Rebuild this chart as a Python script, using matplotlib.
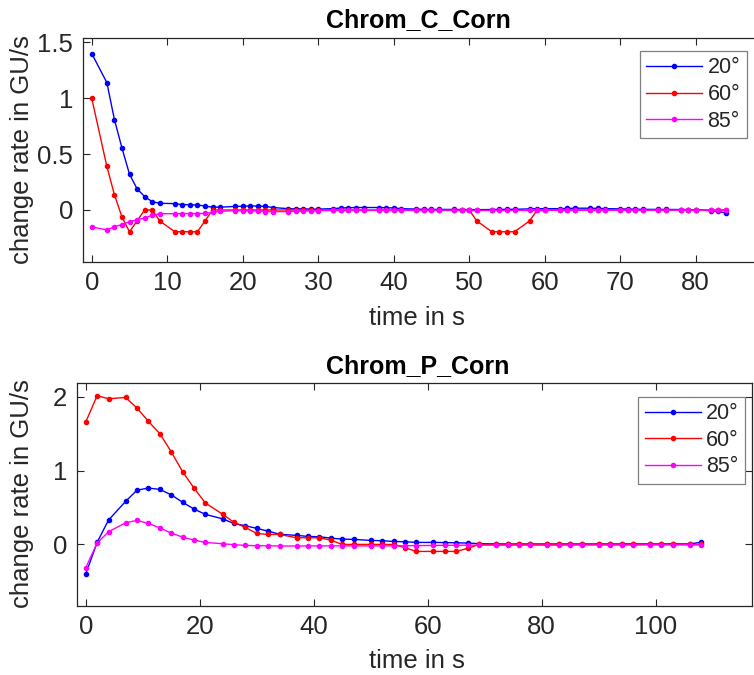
import numpy as np
import matplotlib
matplotlib.use("Agg")
import matplotlib.pyplot as plt

plt.rcParams['font.family'] = ['Liberation Sans', 'DejaVu Sans']

# Chrom_C_Corn
t_c = [0, 2, 3, 4, 5, 6, 7, 8, 9, 11, 12, 13, 14, 15, 16, 17, 19, 20, 21, 22,
       23, 24, 26, 27, 28, 29, 30, 32, 33, 34, 35, 36, 38, 39, 40, 41, 43, 44,
       45, 46, 48, 49, 50, 51, 53, 54, 55, 56, 58, 59, 60, 62, 63, 64, 66, 67,
       68, 70, 71, 72, 73, 75, 76, 78, 79, 80, 82, 83, 84]
c_20 = [1.40, 1.14, 0.81, 0.555, 0.32, 0.19, 0.12, 0.075, 0.06, 0.057, 0.048,
        0.047, 0.045, 0.035, 0.025, 0.025, 0.032, 0.034, 0.036, 0.035, 0.032,
        0.022, 0.012, 0.01, 0.01, 0.008, 0.008, 0.012, 0.018, 0.02, 0.022,
        0.022, 0.022, 0.02, 0.018, 0.012, 0.008, 0.006, 0.005, 0.005, 0.005,
        0.004, 0.004, 0.003, 0.004, 0.005, 0.006, 0.006, 0.01, 0.012, 0.012,
        0.012, 0.014, 0.016, 0.016, 0.014, 0.012, 0.01, 0.008, 0.007, 0.006,
        0.005, 0.005, 0.004, 0.003, 0.002, -0.006, -0.012, -0.028]
c_60 = [1.0, 0.39, 0.137, -0.063, -0.195, -0.098, 0.0, 0.0, -0.098, -0.195,
        -0.195, -0.195, -0.195, -0.098, 0.0, 0.0, 0.0, 0.0, 0.0, 0.0, 0.0, 0.0,
        0.0, 0.0, 0.0, 0.0, 0.0, 0.0, 0.0, 0.0, 0.0, 0.0, 0.0, 0.0, 0.0, 0.0,
        0.0, 0.0, 0.0, 0.0, 0.0, 0.0, 0.0, -0.098, -0.195, -0.195, -0.195,
        -0.195, -0.098, 0.0, 0.0, 0.0, 0.0, 0.0, 0.0, 0.0, 0.0, 0.0, 0.0, 0.0,
        0.0, 0.0, 0.0, 0.0, 0.0, 0.0, 0.0, 0.0, 0.0]
c_85 = [-0.152, -0.178, -0.15, -0.13, -0.105, -0.087, -0.072, -0.048, -0.033,
        -0.033, -0.032, -0.032, -0.032, -0.03, -0.022, -0.012, -0.006, -0.006,
        -0.008, -0.01, -0.015, -0.015, -0.015, -0.012, -0.01, -0.008, -0.006,
        -0.004, -0.004, -0.004, -0.004, -0.004, -0.004, -0.004, -0.004, -0.004,
        -0.004, -0.004, -0.004, -0.004, -0.004, -0.004, -0.004, -0.004, -0.004,
        -0.004, -0.004, -0.004, -0.004, -0.004, -0.004, -0.003, -0.003, -0.003,
        -0.003, -0.003, -0.003, -0.003, -0.003, -0.003, -0.003, -0.002, -0.002,
        -0.002, -0.002, -0.002, -0.002, -0.002, -0.002]

# Chrom_P_Corn
t_p = [0, 2, 4, 7, 9, 11, 13, 15, 17, 19, 21, 24, 26, 28, 30, 32, 34, 37, 39,
       41, 43, 45, 47, 50, 52, 54, 56, 58, 61, 63, 65, 67, 69, 72, 74, 76, 78,
       81, 83, 85, 87, 90, 92, 94, 96, 99, 101, 103, 106, 108]
p_20 = [-0.402, 0.027, 0.329, 0.583, 0.735, 0.763, 0.745, 0.672, 0.57, 0.479,
        0.407, 0.347, 0.284, 0.253, 0.217, 0.18, 0.138, 0.122, 0.108, 0.104,
        0.085, 0.072, 0.068, 0.054, 0.05, 0.04, 0.036, 0.027, 0.027, 0.025,
        0.022, 0.018, 0.01, 0.007, 0.006, 0.006, 0.006, 0.006, 0.006, 0.006,
        0.006, 0.006, 0.006, 0.006, 0.007, 0.006, 0.006, 0.007, 0.006, 0.03]
p_60 = [1.657, 2.014, 1.973, 1.99, 1.847, 1.666, 1.5, 1.255, 0.984, 0.763,
        0.56, 0.41, 0.30, 0.23, 0.149, 0.135, 0.135, 0.09, 0.09, 0.09, 0.058,
        0.0, 0.0, 0.0, 0.0, 0.0, -0.045, -0.095, -0.095, -0.095, -0.095,
        -0.054, 0.0, 0.0, 0.0, 0.0, 0.0, 0.0, 0.0, 0.0, 0.0, 0.0, 0.0, 0.0,
        0.0, 0.0, 0.0, 0.0, 0.0, 0.0]
p_85 = [-0.317, 0.018, 0.171, 0.293, 0.325, 0.284, 0.225, 0.153, 0.099, 0.058,
        0.027, 0.009, -0.004, -0.013, -0.018, -0.018, -0.022, -0.022, -0.02,
        -0.02, -0.02, -0.02, -0.02, -0.02, -0.02, -0.02, -0.018, -0.016,
        -0.014, -0.012, -0.012, -0.01, -0.01, -0.01, -0.01, -0.01, -0.01,
        -0.01, -0.01, -0.008, -0.008, -0.008, -0.008, -0.008, -0.008, -0.006,
        -0.006, -0.006, -0.006, -0.006]

labels = ['20°', '60°', '85°']
colors = ['#0000ff', '#ff0000', '#ff00ff']

W, H = 754, 675
fig = plt.figure(figsize=(W / 100, H / 100), dpi=100)
ink = '#262626'
fs = 18.5


def px_axes(x0, x1, y0, y1):
    # pixel box (left, right, top, bottom) -> figure axes
    return fig.add_axes([x0 / W, 1 - y1 / H, (x1 - x0) / W, (y1 - y0) / H])


def style(ax, xt, yt, ytl):
    ax.set_xticks(xt)
    ax.set_yticks(yt)
    ax.set_yticklabels(ytl)
    ax.tick_params(direction='in', length=5, width=0.8, colors=ink,
                   labelsize=fs, top=True, right=True, pad=7)
    for s in ax.spines.values():
        s.set_color(ink)
        s.set_linewidth(0.9)


def draw(ax, t, series):
    for y, lab, c in zip(series, labels, colors):
        ax.plot(t, y, '-', marker='o', ms=3.0, lw=1.0, color=c, label=lab)


# top panel
ax1 = px_axes(82.7, 756, 38.3, 261.7)
draw(ax1, t_c, [c_20, c_60, c_85])
ax1.set_xlim(-1.2, (756 - 91.7) / 7.55)
ax1.set_ylim(-0.463, 1.537)
style(ax1, np.arange(0, 81, 10), [0, 0.5, 1, 1.5], ['0', '0.5', '1', '1.5'])
ax1.spines['right'].set_visible(False)
ax1.tick_params(right=False)

# bottom panel
ax2 = px_axes(76.7, 752, 382.7, 605.7)
draw(ax2, t_p, [p_20, p_60, p_85])
ax2.set_xlim(-1.58, (752 - 85.7) / 5.7)
ax2.set_ylim(-0.83, 2.19)
style(ax2, np.arange(0, 101, 20), [0, 1, 2], ['0', '1', '2'])

for ax, ttl, ty, xy in [(ax1, 'Chrom_C_Corn', 20, 318), (ax2, 'Chrom_P_Corn', 366, 661)]:
    fig.text(418 / W, 1 - ty / H, ttl, ha='center', va='center',
             fontsize=18, fontweight='bold', color='black')
    fig.text(417 / W, 1 - xy / H, 'time in s', ha='center', va='center',
             fontsize=fs, color=ink)

fig.text(21.7 / W, 1 - 150 / H, 'change rate in GU/s', rotation=90,
         ha='center', va='center', fontsize=fs, color=ink)
fig.text(21.7 / W, 1 - 494 / H, 'change rate in GU/s', rotation=90,
         ha='center', va='center', fontsize=fs, color=ink)

for ax, (x1, y0) in [(ax1, (746.7, 51)), (ax2, (745, 396.7))]:
    leg = ax.legend(loc='upper right', bbox_to_anchor=(x1 / W, 1 - y0 / H),
                    bbox_transform=fig.transFigure, fontsize=15.5,
                    handlelength=2.6, handletextpad=0.25, labelspacing=0.26,
                    borderpad=0.3, borderaxespad=0, fancybox=False,
                    framealpha=1, edgecolor='#7f7f7f')
    leg.get_frame().set_linewidth(0.9)
    for tx in leg.get_texts():
        tx.set_color(ink)

fig.savefig('out.png', dpi=100)
